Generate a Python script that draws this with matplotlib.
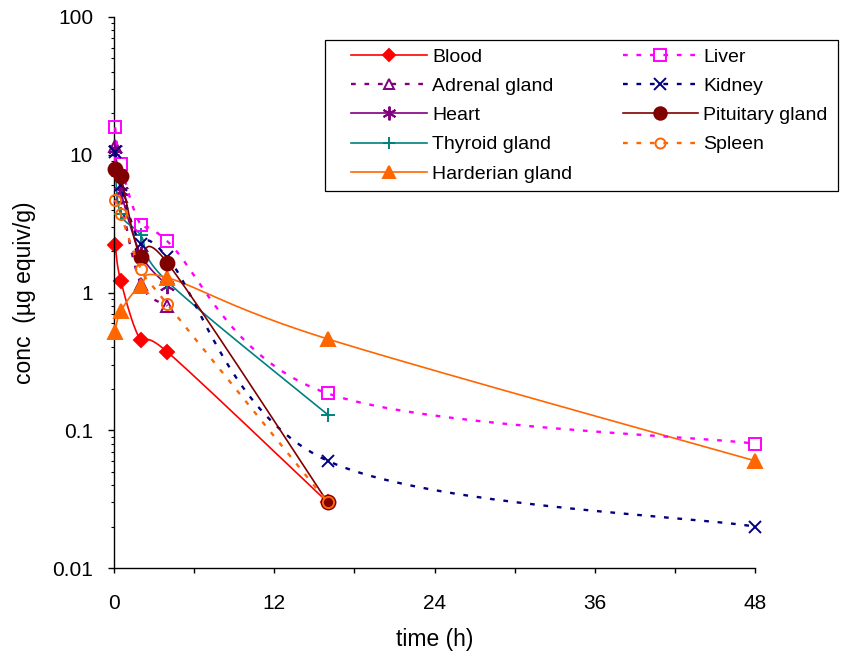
import numpy as np
import matplotlib
matplotlib.use("Agg")
import matplotlib.pyplot as plt
from matplotlib.lines import Line2D
from matplotlib.patches import Rectangle

plt.rcParams['font.family'] = ['Liberation Sans', 'DejaVu Sans']

# Sampling times (h)
time = [0.083, 0.5, 2, 4, 16, 48]

# Tissue concentrations (µg equiv/g)
blood = [2.23, 1.22, 0.45, 0.37, 0.03]
adrenal = [11.5, 5.0, 1.16, 0.80]
heart = [11.0, 5.5, 1.9, 1.12]
thyroid = [7.6, 3.7, 2.6, 1.2, 0.13]
harderian = [0.52, 0.73, 1.12, 1.28, 0.46, 0.06]
liver = [15.8, 8.5, 3.1, 2.35, 0.185, 0.08]
kidney = [10.4, 6.0, 2.25, 1.8, 0.06, 0.02]
pituitary = [7.9, 7.0, 1.8, 1.64, 0.03]
spleen = [4.7, 3.7, 1.49, 0.82, 0.03]

labels = ["Blood", "Adrenal gland", "Heart", "Thyroid gland", "Harderian gland",
          "Liver", "Kidney", "Pituitary gland", "Spleen"]

XMAX = 48
YLO, YHI = 0.01, 100

FIG_W, FIG_H = 856, 660
fig = plt.figure(figsize=(FIG_W / 100, FIG_H / 100), dpi=100)
ax = fig.add_axes([114 / FIG_W, 1 - 568 / FIG_H, (755 - 114) / FIG_W, (568 - 17) / FIG_H])
ax.set_xlim(0, XMAX)
ax.set_yscale('log')
ax.set_ylim(YLO, YHI)

W_PX = 641.0
H_PX = 551.0


def smooth(x, y, n=40):
    """Bezier smoothing of a polyline in screen-proportional space."""
    u = np.asarray(x, float) / XMAX * W_PX
    v = (np.log10(np.asarray(y, float)) - np.log10(YLO)) / (np.log10(YHI) - np.log10(YLO)) * H_PX
    P = np.column_stack([u, v])
    m = len(P)
    segs = []
    for i in range(m - 1):
        p0 = P[i - 1] if i > 0 else P[i]
        p1 = P[i]
        p2 = P[i + 1]
        p3 = P[i + 2] if i + 2 < m else P[i + 1]
        c1 = p1 + (p2 - p0) / 6.0
        c2 = p2 - (p3 - p1) / 6.0
        t = np.linspace(0, 1, n)[:, None]
        b = ((1 - t) ** 3) * p1 + 3 * ((1 - t) ** 2) * t * c1 + 3 * (1 - t) * t ** 2 * c2 + t ** 3 * p2
        segs.append(b if i == 0 else b[1:])
    pts = np.vstack(segs)
    xs = pts[:, 0] / W_PX * XMAX
    ys = 10 ** (pts[:, 1] / H_PX * (np.log10(YHI) - np.log10(YLO)) + np.log10(YLO))
    return xs, ys


DOT = (2.0, 3.7)
asterisk = (6, 2, 0)

series = [
    dict(y=blood, color='#FF0000', ls='-', marker='D', ms=7, mfc='#FF0000', lw=1.2),
    dict(y=adrenal, color='#800080', ls=DOT, marker='^', ms=8, mfc='none', lw=1.7),
    dict(y=heart, color='#800080', ls='-', marker=asterisk, ms=11, mfc='none', lw=1.2),
    dict(y=thyroid, color='#008080', ls='-', marker='+', ms=10, mfc='none', lw=1.2),
    dict(y=harderian, color='#FF6600', ls='-', marker='^', ms=10, mfc='#FF6600', lw=1.2),
    dict(y=liver, color='#FF00FF', ls=DOT, marker='s', ms=9, mfc='none', lw=1.7),
    dict(y=kidney, color='#000080', ls=DOT, marker='x', ms=9, mfc='none', lw=1.7),
    dict(y=pituitary, color='#800000', ls='-', marker='o', ms=10, mfc='#800000', lw=1.2),
    dict(y=spleen, color='#FF6600', ls=DOT, marker='o', ms=8, mfc='none', lw=1.7),
]

handles = []
for k, s in enumerate(series):
    yv = s['y']
    tv = time[:len(yv)]
    xs, ys = smooth(tv, yv)
    line_kw = dict(linestyle='-') if s['ls'] == '-' else dict(linestyle=(0, s['ls']))
    ax.plot(xs, ys, color=s['color'], lw=s['lw'], zorder=2 + k, **line_kw)
    ax.plot(tv, yv, linestyle='none', marker=s['marker'], ms=s['ms'],
            mfc=s['mfc'], mec=s['color'], mew=1.4, zorder=2 + k, clip_on=False)
    handles.append(Line2D([], [], color=s['color'], lw=s['lw'], marker=s['marker'],
                          ms=s['ms'] * 0.9, mfc=s['mfc'], mec=s['color'], mew=1.4,
                          **line_kw))

# Axes styling
for side in ('top', 'right'):
    ax.spines[side].set_visible(False)
for side in ('left', 'bottom'):
    ax.spines[side].set_linewidth(1.0)
    ax.spines[side].set_color('black')

ax.set_xticks([0, 12, 24, 36, 48])
ax.set_xticks([6, 18, 30, 42], minor=True)
ax.set_yticks([0.01, 0.1, 1, 10, 100])
ax.set_yticklabels(['0.01', '0.1', '1', '10', '100'])
ax.tick_params(axis='x', which='both', direction='out', length=3.8, width=1, labelsize=15, pad=15)
ax.tick_params(axis='y', which='major', direction='out', length=4, width=1, labelsize=15, pad=11)
ax.tick_params(axis='y', which='minor', direction='out', length=2.5, width=0.8)

ax.set_xlabel('time (h)', fontsize=16.5, labelpad=11)
ax.set_ylabel('conc  (µg equiv/g)', fontsize=16.5, labelpad=12)

# Legend: two columns inside a plain black frame
leg = ax.legend(handles, labels, ncol=2, loc='upper left',
                bbox_to_anchor=(351 / FIG_W, 1 - 48 / FIG_H), bbox_transform=fig.transFigure,
                fontsize=14, frameon=False, handlelength=3.9, handletextpad=0.26,
                columnspacing=2.6, labelspacing=0.6, borderpad=0, borderaxespad=0)
leg.set_zorder(20)
frame = Rectangle((325 / FIG_W, 1 - 191 / FIG_H), (838 - 325) / FIG_W, (191 - 40) / FIG_H,
                  transform=fig.transFigure, facecolor='white', edgecolor='black',
                  linewidth=0.9, zorder=19, clip_on=False)
ax.add_artist(frame)

fig.savefig('out.png', dpi=100)
